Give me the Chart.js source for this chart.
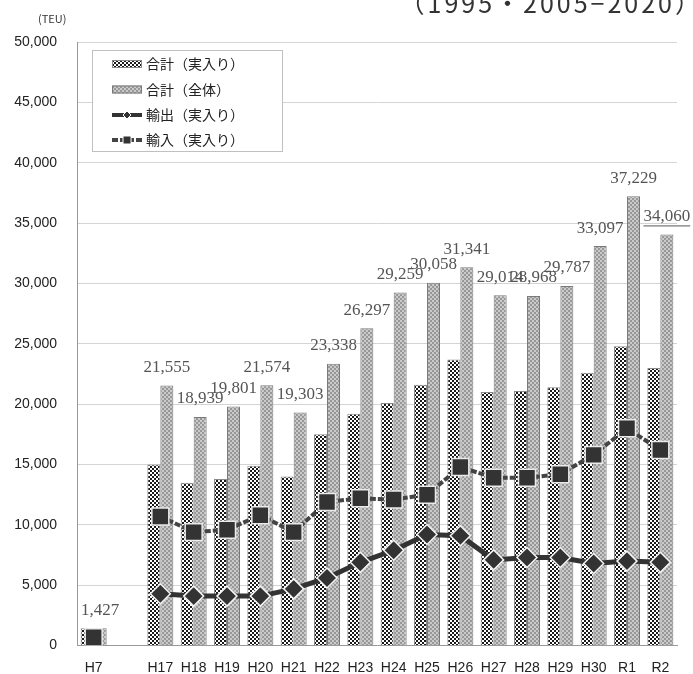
<!DOCTYPE html>
<html><head><meta charset="utf-8">
<script src="https://cdn.jsdelivr.net/npm/chart.js@4.4.1/dist/chart.umd.min.js"></script>
<style>
html,body{margin:0;padding:0;background:#fff;}
#wrap{position:relative;width:693px;height:674px;overflow:hidden;background:#fff;}
#title{position:absolute;right:-10px;top:-16px;font-family:"Noto Sans CJK JP";font-size:25px;color:#333;letter-spacing:3px;white-space:nowrap;}
#unit{position:absolute;left:38px;top:10px;font-family:"Noto Sans CJK JP";font-size:11px;color:#333;white-space:nowrap;}
canvas{position:absolute;left:0;top:0;}
</style></head><body>
<div id="wrap"><canvas id="c" width="693" height="674"></canvas><div id="title">（1995・2005−2020）</div><div id="unit">(TEU)</div></div>
<script>
const categories = ['H7','','H17','H18','H19','H20','H21','H22','H23','H24','H25','H26','H27','H28','H29','H30','R1','R2'];
const totalLoaded = [1427,null,15000,13500,13800,14900,14000,17500,19200,20100,21600,23700,21000,21100,21400,22600,24800,23000];
const totalAll = [1427,null,21555,18939,19801,21574,19303,23338,26297,29259,30058,31341,29014,28968,29787,33097,37229,34060];
const exportLoaded = [null,null,4300,4100,4100,4100,4700,5600,6900,7900,9200,9100,7100,7300,7300,6800,7000,6900];
const importLoaded = [700,null,10700,9400,9600,10800,9400,11900,12200,12100,12500,14800,13900,13900,14200,15800,18000,16200];
const seriesNames = ['合計（実入り）','合計（全体）','輸出（実入り）','輸入（実入り）'];
const yMin = 0, yMax = 50000, yStep = 5000;

function makePattern(bg, fg, size, cell){
  const c=document.createElement('canvas'); c.width=size; c.height=size;
  const x=c.getContext('2d');
  x.fillStyle=bg; x.fillRect(0,0,size,size);
  x.fillStyle=fg; x.fillRect(0,0,cell,cell); x.fillRect(cell,cell,cell,cell);
  return x.createPattern(c,'repeat');
}
const checkerPat = makePattern('#ffffff','#1a1a1a',4,2);
const grayPat = makePattern('#989898','#cacaca',4,2);

const fmt = v => Number(v).toLocaleString('en-US');

const labelPlugin = {
  id:'valueLabels',
  afterDatasetsDraw(chart){
    const ctx=chart.ctx; const meta=chart.getDatasetMeta(1);
    ctx.save();
    ctx.font='17px "Liberation Serif"'; ctx.fillStyle='#555'; ctx.textAlign='center'; ctx.textBaseline='middle';
    meta.data.forEach((el,i)=>{
      const v=totalAll[i]; if(v==null) return;
      const t=fmt(v); const y=el.y-18;
      ctx.fillText(t,el.x,y);
      if(i===totalAll.length-1){
        const w=ctx.measureText(t).width;
        ctx.strokeStyle='#555'; ctx.lineWidth=1;
        ctx.beginPath(); ctx.moveTo(el.x-w/2,y+9.5); ctx.lineTo(el.x+w/2,y+9.5); ctx.stroke();
      }
    });
    ctx.restore();
  }
};

const legendPlugin = {
  id:'boxLegend',
  afterDraw(chart){
    const ctx=chart.ctx; ctx.save();
    const bx=92, by=50, bw=190, bh=101;
    ctx.fillStyle='#fff'; ctx.fillRect(bx,by,bw,bh);
    ctx.strokeStyle='#c0c0c0'; ctx.lineWidth=1; ctx.strokeRect(bx+0.5,by+0.5,bw,bh);
    const rows=[64,89.5,115,140];
    const sx=112, ex=142;
    ctx.font='14px "Noto Sans CJK JP"'; ctx.textBaseline='middle'; ctx.textAlign='left';
    const ds=chart.data.datasets;
    for(let k=0;k<4;k++){
      const y=rows[k]; const d=ds[k];
      if(k<2){
        ctx.fillStyle=d.backgroundColor; ctx.fillRect(sx,y-4,ex-sx,8);
        ctx.strokeStyle=d.borderColor; ctx.strokeRect(sx+0.5,y-3.5,ex-sx-1,7);
      } else {
        ctx.strokeStyle=d.borderColor; ctx.lineWidth=4; ctx.setLineDash(d.borderDash||[]);
        ctx.beginPath(); ctx.moveTo(sx,y); ctx.lineTo(ex,y); ctx.stroke(); ctx.setLineDash([]);
        ctx.fillStyle='#333'; ctx.strokeStyle='#fff'; ctx.lineWidth=1;
        ctx.beginPath();
        if(k===2){ ctx.moveTo(127,y-4); ctx.lineTo(131,y); ctx.lineTo(127,y+4); ctx.lineTo(123,y); ctx.closePath(); }
        else { ctx.rect(123,y-4,8,8); }
        ctx.fill(); ctx.stroke();
      }
      ctx.fillStyle='#222'; ctx.fillText(seriesNames[k],146,y);
    }
    ctx.restore();
  }
};

new Chart(document.getElementById('c'),{
  data:{
    labels:categories,
    datasets:[
      {type:'bar',label:seriesNames[0],data:totalLoaded,backgroundColor:checkerPat,borderColor:'#8a8a8a',borderWidth:1,categoryPercentage:0.78,barPercentage:1,order:3},
      {type:'bar',label:seriesNames[1],data:totalAll,backgroundColor:grayPat,borderColor:'#7a7a7a',borderWidth:1,categoryPercentage:0.78,barPercentage:1,order:3},
      {type:'line',label:seriesNames[2],data:exportLoaded,borderColor:'#333',borderWidth:5,pointStyle:'rectRot',pointRadius:10,pointBackgroundColor:'#333',pointBorderColor:'#f4f4f4',pointBorderWidth:1.5,spanGaps:false,order:1},
      {type:'line',label:seriesNames[3],data:importLoaded,borderColor:'#444',borderWidth:4,borderDash:[6,2],pointStyle:'rect',pointRadius:12,pointBackgroundColor:'#333',pointBorderColor:'#eaeaea',pointBorderWidth:1.5,spanGaps:false,order:0}
    ]
  },
  options:{
    responsive:false, animation:false,
    layout:{padding:{top:42,right:16,left:0,bottom:0}},
    plugins:{legend:{display:false},tooltip:{enabled:false},title:{display:false}},
    scales:{
      x:{grid:{display:false},border:{color:'#999'},
         ticks:{color:'#222',font:{family:'Liberation Sans',size:14},padding:6,autoSkip:false,maxRotation:0},
         afterFit:s=>{s.height=27;}},
      y:{min:yMin,max:yMax,
         ticks:{stepSize:yStep,callback:v=>fmt(v),padding:20,color:'#222',font:{family:'Liberation Sans',size:14}},
         grid:{color:'#d4d4d4',drawTicks:false},border:{color:'#999'},
         afterFit:s=>{s.width=77;}}
    }
  },
  plugins:[labelPlugin,legendPlugin]
});
</script>
</body></html>
